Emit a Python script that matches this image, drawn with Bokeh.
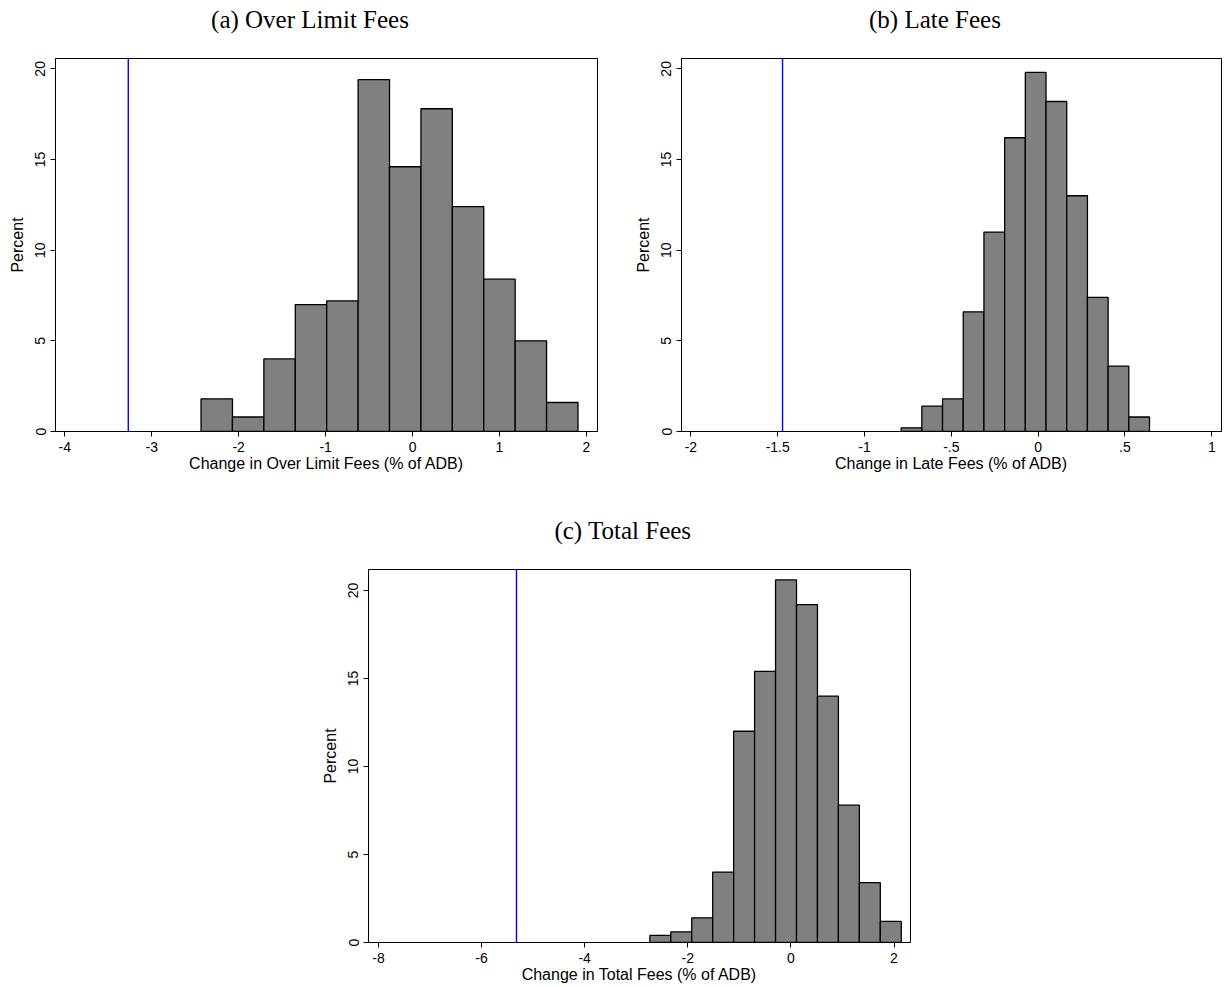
import numpy as np
from bokeh.plotting import figure
from bokeh.models import Range1d, FixedTicker, Span, Spacer, LinearAxis
from bokeh.layouts import row, column
from bokeh.embed import file_html
from bokeh.resources import INLINE

# ---------------- data ----------------
y_ticks = [0, 5, 10, 15, 20]

a_title = "(a) Over Limit Fees"
a_xlabel = "Change in Over Limit Fees (% of ADB)"
a_bin_start = -2.433
a_bin_width = 0.3613
a_percent = [1.8, 0.8, 4.0, 7.0, 7.2, 19.4, 14.6, 17.8, 12.4, 8.4, 5.0, 1.6]
a_actual = -3.27
a_xticks = [-4, -3, -2, -1, 0, 1, 2]
a_xtick_labels = ["-4", "-3", "-2", "-1", "0", "1", "2"]

b_title = "(b) Late Fees"
b_xlabel = "Change in Late Fees (% of ADB)"
b_bin_start = -0.789
b_bin_width = 0.1192
b_percent = [0.2, 1.4, 1.8, 6.6, 11.0, 16.2, 19.8, 18.2, 13.0, 7.4, 3.6, 0.8]
b_actual = -1.472
b_xticks = [-2, -1.5, -1, -0.5, 0, 0.5, 1]
b_xtick_labels = ["-2", "-1.5", "-1", "-.5", "0", ".5", "1"]

c_title = "(c) Total Fees"
c_xlabel = "Change in Total Fees (% of ADB)"
c_bin_start = -2.736
c_bin_width = 0.4064
c_percent = [0.4, 0.6, 1.4, 4.0, 12.0, 15.4, 20.6, 19.2, 14.0, 7.8, 3.4, 1.2]
c_actual = -5.323
c_xticks = [-8, -6, -4, -2, 0, 2]
c_xtick_labels = ["-8", "-6", "-4", "-2", "0", "2"]

SANS = "Liberation Sans"
SERIF = "Liberation Serif"


def panel(title, xlabel, start, width, heights, actual, xticks, xlabels,
          xr, yr, fw, fh, mb):
    heights = np.asarray(heights, dtype=float)
    left = start + width * np.arange(len(heights))
    right = left + width
    p = figure(frame_width=fw, frame_height=fh,
               x_range=Range1d(*xr), y_range=Range1d(*yr),
               output_backend="svg", toolbar_location=None,
               min_border_left=mb[0], min_border_right=mb[1],
               min_border_top=mb[2], min_border_bottom=mb[3])
    p.quad(left=left, right=right, bottom=0, top=heights,
           fill_color="#808080", line_color="black", line_width=1.3)
    p.add_layout(Span(location=actual, dimension="height",
                      line_color="#0000ff", line_width=1.4))
    p.xgrid.visible = False
    p.ygrid.visible = False
    p.background_fill_color = "white"
    p.border_fill_color = "white"
    p.outline_line_color = "black"
    p.outline_line_width = 1
    p.outline_line_alpha = 1

    xa = p.below[0]
    ya = p.left[0]
    for ax in (xa, ya):
        ax.axis_line_color = "black"
        ax.axis_line_width = 1
        ax.major_tick_line_color = "black"
        ax.major_tick_out = 5
        ax.major_tick_in = 0
        ax.minor_tick_line_color = None
        ax.major_label_text_font = SANS
        ax.major_label_text_font_size = "14px"
        ax.major_label_text_color = "black"
        ax.axis_label_text_font = SANS
        ax.axis_label_text_font_size = "16px"
        ax.axis_label_text_font_style = "normal"
        ax.axis_label_text_color = "black"

    xa.ticker = FixedTicker(ticks=list(xticks))
    xa.major_label_overrides = {float(t): l for t, l in zip(xticks, xlabels)}
    xa.axis_label = xlabel
    xa.major_label_standoff = 5
    xa.axis_label_standoff = 0

    ya.ticker = FixedTicker(ticks=y_ticks)
    ya.axis_label = "Percent"
    ya.major_label_orientation = "vertical"
    ya.major_label_standoff = 5
    ya.axis_label_standoff = 7

    # panel title: drawn as the single label of an invisible axis above the frame,
    # centred a little left of the frame centre (as in the source figure)
    tx = xr[0] + (fw / 2 - 16.5) / fw * (xr[1] - xr[0])
    top = LinearAxis(ticker=FixedTicker(ticks=[tx]),
                     major_label_overrides={tx: title},
                     axis_line_color=None, major_tick_line_color=None,
                     minor_tick_line_color=None,
                     major_tick_out=0, major_tick_in=0,
                     major_label_standoff=26,
                     major_label_text_font=SERIF,
                     major_label_text_font_size="25px",
                     major_label_text_color="black")
    p.add_layout(top, "above")
    return p


fa = panel(a_title, a_xlabel, a_bin_start, a_bin_width, a_percent, a_actual,
           a_xticks, a_xtick_labels, (-4.107, 2.127), (0, 20.57),
           542, 373, (55, 23, 58, 47))
fb = panel(b_title, b_xlabel, b_bin_start, b_bin_width, b_percent, b_actual,
           b_xticks, b_xtick_labels, (-2.054, 1.056), (0, 20.57),
           540, 373, (61, 2, 58, 47))
fc = panel(c_title, c_xlabel, c_bin_start, c_bin_width, c_percent, c_actual,
           c_xticks, c_xtick_labels, (-8.193, 2.32), (0, 21.19),
           542, 373, (56, 5, 91, 30))

layout = column(row(fa, fb, spacing=0),
                row(Spacer(width=312, height=10), fc, spacing=0),
                spacing=0)

open("out.html", "w").write(file_html(layout, INLINE))
